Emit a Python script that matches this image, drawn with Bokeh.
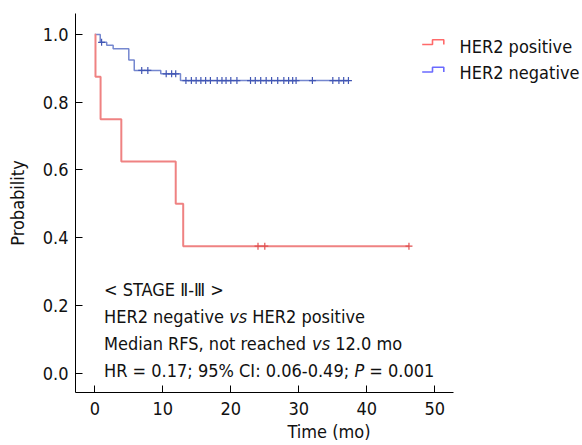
from bokeh.plotting import figure
from bokeh.models import Range1d, FixedTicker, CustomJSTickFormatter, Label, PolyAnnotation
from bokeh.embed import file_html
from bokeh.resources import INLINE

# ---------------- data ----------------
series_names = ["HER2 positive", "HER2 negative"]

pos_event_times = [0.1, 0.85, 3.9, 11.9, 13.0]
pos_surv = [0.875, 0.75, 0.625, 0.5, 0.375]
pos_censor_times = [24.0, 25.0, 46.2]
pos_end = 46.2

neg_event_times = [0.8, 1.75, 2.7, 5.0, 5.8, 9.7, 12.6]
neg_surv = [0.977, 0.968, 0.958, 0.925, 0.894, 0.884, 0.864]
neg_censor_times = [1.0, 6.9, 7.8, 10.5, 11.3, 11.9, 13.4, 14.2, 14.9, 15.6,
                    16.3, 17.0, 18.0, 18.7, 19.3, 20.0, 20.9, 22.9, 23.6, 24.4,
                    25.2, 26.0, 26.9, 27.8, 28.5, 29.1, 29.6, 32.0, 35.0, 35.9,
                    36.6, 37.3]
neg_end = 37.3

x_ticks = [0, 10, 20, 30, 40, 50]
y_ticks = [0.0, 0.2, 0.4, 0.6, 0.8, 1.0]
x_axis_end = 52.75

# ---------------- helpers ----------------
def step_arrays(times, surv, end):
    xs = [0.0] + list(times) + [end]
    ys = [1.0] + list(surv) + [surv[-1]]
    return xs, ys

def surv_at(t, times, surv):
    s = 1.0
    for ti, si in zip(times, surv):
        if ti <= t:
            s = si
    return s

W_, H_ = 582, 445
FL, FR, FT, FB = 75, 582, 13, 392          # frame edges (pixels)
X0, X1 = -2.838, 71.72
Y0, Y1 = -0.057, 1.062

def px_x(px):
    return X0 + (px - FL) / (FR - FL) * (X1 - X0)

def px_y(py):
    return Y0 + (FB - py) / (FB - FT) * (Y1 - Y0)

FONT = "DejaVu Sans Condensed, DejaVu Sans"
FSN = 18
FS = f"{FSN}px"
TXT = "#111111"

# approximate advance widths (em) of DejaVu Sans; condensed face ~0.9x
W = {" ": .318, "H": .752, "E": .632, "R": .695, "2": .636, "n": .634, "e": .615,
     "g": .635, "a": .613, "t": .392, "i": .278, "v": .592, "s": .521, "M": .863,
     "d": .635, "S": .635, "F": .575, ",": .318, "o": .612, "r": .411, "c": .550,
     "h": .634, "=": .838, "0": .636, "1": .636, "7": .636, "9": .636, "5": .636,
     "6": .636, "4": .636, ".": .318, ";": .337, "%": .950, "C": .698, "I": .295,
     ":": .337, "-": .361, "P": .603, "p": .635, "m": .974}

def twidth(s):
    return sum(W.get(c, 0.6) for c in s) * 0.9 * FSN

# ---------------- figure ----------------
p = figure(width=W_, height=H_, output_backend="svg", toolbar_location=None,
           x_range=Range1d(X0, X1), y_range=Range1d(Y0, Y1),
           min_border_left=FL, min_border_right=W_ - FR, min_border_top=FT,
           min_border_bottom=H_ - FB)
p.outline_line_color = None
p.xgrid.visible = False
p.ygrid.visible = False

for ax in (p.xaxis[0], p.yaxis[0]):
    ax.axis_line_color = "black"
    ax.axis_line_width = 1
    ax.major_tick_line_color = "black"
    ax.major_tick_in = 7
    ax.major_tick_out = 0
    ax.minor_tick_line_color = None
    ax.major_label_text_font = FONT
    ax.major_label_text_font_size = FS
    ax.major_label_text_color = TXT
    ax.axis_label_text_font = FONT
    ax.axis_label_text_font_size = FS
    ax.axis_label_text_font_style = "normal"
    ax.axis_label_text_color = TXT

p.xaxis.ticker = FixedTicker(ticks=x_ticks)
p.xaxis.bounds = (X0, x_axis_end)
p.yaxis.ticker = FixedTicker(ticks=y_ticks)
p.yaxis.formatter = CustomJSTickFormatter(code="return tick.toFixed(1);")
p.xaxis.major_label_standoff = 9
p.yaxis.major_label_standoff = 7
p.xaxis.axis_label = "Time (mo)"
p.xaxis.axis_label_standoff = 3
p.yaxis.axis_label = "Probability"
p.yaxis.axis_label_standoff = 12

# curves
RED_LINE, RED_MARK, RED_LEG = "#ef8282", "#e05050", "#ff5050"
BLUE_LINE, BLUE_MARK, BLUE_LEG = "#7587cf", "#4156b4", "#5050ff"

bx, by = step_arrays(neg_event_times, neg_surv, neg_end)
p.step(bx, by, mode="after", line_color=BLUE_LINE, line_width=1.5)
rx, ry = step_arrays(pos_event_times, pos_surv, pos_end)
p.step(rx, ry, mode="after", line_color=RED_LINE, line_width=2)

p.scatter(neg_censor_times, [surv_at(t, neg_event_times, neg_surv) for t in neg_censor_times],
          marker="cross", size=7, line_color=BLUE_MARK, line_width=1.2)
p.scatter(pos_censor_times, [surv_at(t, pos_event_times, pos_surv) for t in pos_censor_times],
          marker="cross", size=7, line_color=RED_MARK, line_width=1.2)

# legend (step icons + labels)
def add_icon(y_low, y_high, color):
    pts = [(421.7, y_low), (432.0, y_low), (432.0, y_high), (443.3, y_high), (443.3, y_low)]
    seq = pts + pts[-2:0:-1]
    p.add_layout(PolyAnnotation(xs=[px_x(a) for a, b in seq], ys=[px_y(b) for a, b in seq],
                                fill_alpha=0, line_color=color, line_alpha=0.85,
                                line_width=1.6))

add_icon(44.0, 39.3, RED_LEG)
add_icon(71.5, 66.7, BLUE_LEG)
for name, base in zip(series_names, [46.0, 71.5]):
    p.add_layout(Label(x=px_x(459), y=px_y(base), text=name, text_font=FONT,
                       text_font_size=FS, text_color=TXT,
                       text_baseline="alphabetic", text_align="left"))

# annotation block: (baseline, [(text, style), ...]) laid out left to right
LEFT = 103.5
lines = [
    (288.7, [("< STAGE \u2161-\u2162 >", "normal")]),
    (316.3, [("HER2 negative ", "normal"), ("vs", "italic"), (" HER2 positive", "normal")]),
    (343.0, [("Median RFS, not reached ", "normal"), ("vs", "italic"), (" 12.0 mo", "normal")]),
    (369.7, [("HR = 0.17; 95% CI: 0.06-0.49; ", "normal"), ("P", "italic"), (" = 0.001", "normal")]),
]
for base, segs in lines:
    off = 0.0
    for txt, style in segs:
        lead = len(txt) - len(txt.lstrip(" "))
        off += twidth(" " * lead)
        body = txt.strip(" ")
        p.add_layout(Label(x=px_x(LEFT), y=px_y(base), x_offset=off, text=body,
                           text_font=FONT, text_font_size=FS,
                           text_font_style=style, text_color=TXT,
                           text_baseline="alphabetic", text_align="left"))
        off += twidth(txt.lstrip(" "))

open("out.html", "w").write(file_html(p, INLINE))
